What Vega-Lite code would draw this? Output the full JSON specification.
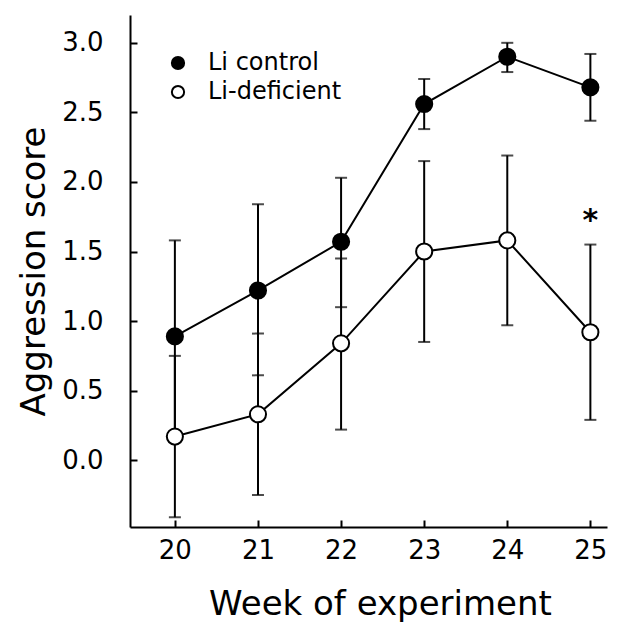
{
  "$schema": "https://vega.github.io/schema/vega-lite/v6.json",
  "width": 477,
  "height": 512,
  "autosize": {"type": "none"},
  "padding": {"left": 130, "top": 15, "right": 10, "bottom": 99},
  "background": "white",
  "config": {
    "view": {"stroke": null},
    "font": "DejaVu Sans",
    "axis": {
      "domainColor": "black",
      "domainWidth": 2,
      "tickColor": "black",
      "tickWidth": 2,
      "tickSize": -7,
      "grid": false,
      "labelColor": "black",
      "titleColor": "black",
      "labelFont": "DejaVu Sans",
      "titleFont": "DejaVu Sans",
      "labelFontWeight": "normal",
      "titleFontWeight": "normal"
    }
  },
  "data": {
    "values": [
      {"week": 20, "group": "Li control", "mean": 0.89, "lo": 0.20, "hi": 1.58},
      {"week": 21, "group": "Li control", "mean": 1.22, "lo": 0.61, "hi": 1.84},
      {"week": 22, "group": "Li control", "mean": 1.57, "lo": 1.10, "hi": 2.03},
      {"week": 23, "group": "Li control", "mean": 2.56, "lo": 2.38, "hi": 2.74},
      {"week": 24, "group": "Li control", "mean": 2.90, "lo": 2.79, "hi": 3.00},
      {"week": 25, "group": "Li control", "mean": 2.68, "lo": 2.44, "hi": 2.92},
      {"week": 20, "group": "Li-deficient", "mean": 0.17, "lo": -0.41, "hi": 0.75},
      {"week": 21, "group": "Li-deficient", "mean": 0.33, "lo": -0.25, "hi": 0.91},
      {"week": 22, "group": "Li-deficient", "mean": 0.84, "lo": 0.22, "hi": 1.45},
      {"week": 23, "group": "Li-deficient", "mean": 1.50, "lo": 0.85, "hi": 2.15},
      {"week": 24, "group": "Li-deficient", "mean": 1.58, "lo": 0.97, "hi": 2.19},
      {"week": 25, "group": "Li-deficient", "mean": 0.92, "lo": 0.29, "hi": 1.55}
    ]
  },
  "encoding": {
    "x": {
      "field": "week",
      "type": "quantitative",
      "scale": {"domain": [19.46, 25.2], "nice": false, "zero": false},
      "axis": {
        "title": "Week of experiment",
        "titleFontSize": 34,
        "titlePadding": 24,
        "titleX": 250,
        "values": [20, 21, 22, 23, 24, 25],
        "format": "d",
        "labelFontSize": 26,
        "labelPadding": 17,
        "tickSize": -7
      }
    }
  },
  "layer": [
    {
      "mark": {"type": "errorbar", "color": "black", "ticks": {"size": 12, "thickness": 2}, "rule": {"strokeWidth": 2}},
      "encoding": {
        "y": {
          "field": "lo",
          "type": "quantitative",
          "title": "Aggression score",
          "scale": {"domain": [-0.48, 3.2], "nice": false, "zero": false},
          "axis": {
            "title": "Aggression score",
            "titleFontSize": 34,
            "titlePadding": 10,
            "values": [0, 0.5, 1, 1.5, 2, 2.5, 3],
            "format": ".1f",
            "labelFontSize": 26,
            "labelPadding": 34,
            "tickSize": -7
          }
        },
        "y2": {"field": "hi"},
        "detail": {"field": "group"}
      }
    },
    {
      "mark": {"type": "line", "color": "black", "strokeWidth": 2},
      "encoding": {
        "y": {"field": "mean", "type": "quantitative", "title": "Aggression score"},
        "detail": {"field": "group"}
      }
    },
    {
      "mark": {"type": "point", "shape": "circle", "filled": true, "size": 260, "stroke": "black", "strokeWidth": 2, "opacity": 1},
      "encoding": {
        "y": {"field": "mean", "type": "quantitative", "title": "Aggression score"},
        "fill": {
          "field": "group",
          "type": "nominal",
          "scale": {"domain": ["Li control", "Li-deficient"], "range": ["black", "white"]},
          "legend": {
            "title": null,
            "orient": "none",
            "legendX": 36,
            "legendY": 36,
            "padding": 0,
            "labelFontSize": 24,
            "labelFont": "DejaVu Sans",
            "labelColor": "black",
            "labelOffset": 18,
            "symbolType": "circle",
            "symbolSize": 150,
            "symbolStrokeColor": "black",
            "symbolStrokeWidth": 2,
            "symbolOpacity": 1,
            "rowPadding": 5
          }
        }
      }
    },
    {
      "data": {"values": [{"week": 25, "value": 1.72, "label": "*"}]},
      "mark": {"type": "text", "fontSize": 30, "fontWeight": "bold", "color": "black"},
      "encoding": {
        "y": {"field": "value", "type": "quantitative", "title": "Aggression score"},
        "text": {"field": "label"}
      }
    }
  ]
}
